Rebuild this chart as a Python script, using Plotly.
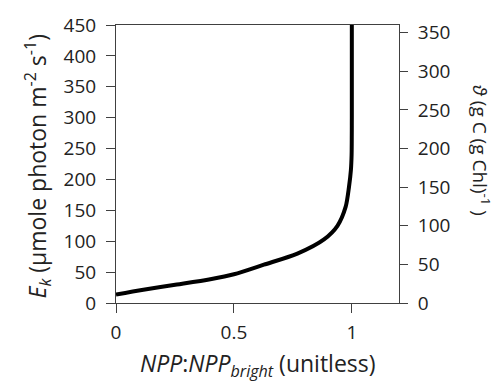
import plotly.graph_objects as go

npp_ratio = [0.0, 0.116, 0.258, 0.4, 0.5, 0.627, 0.769, 0.882, 0.939, 0.974, 0.988, 0.996, 0.999, 1.0, 1.0]
ek = [13.6, 21.5, 29.8, 38.5, 46.5, 62, 80, 103, 125, 156, 188, 215, 240, 300, 450]

x_ticks = [0, 0.5, 1]
x_ticklabels = ["0", "0.5", "1"]
y_ticks = [0, 50, 100, 150, 200, 250, 300, 350, 400, 450]
y2_ticks = [0, 50, 100, 150, 200, 250, 300, 350]

x_title = "<i>NPP</i>:<i>NPP<sub>bright</sub></i> (unitless)"
y_title = "<i>E<sub>k</sub></i> (µmole photon m<sup>-2</sup> s<sup>-1</sup>)"
y2_title = "<i>ϑ</i> (g C (g Chl)<sup>-1</sup> )"

FONT = "Open Sans"
axis_col = "#404040"
txt_col = "#222222"
TFS = 19   # tick font size
LFS = 23   # axis title font size

fig = go.Figure()
fig.add_trace(go.Scatter(x=npp_ratio, y=ek, mode="lines",
                         line=dict(color="black", width=4, shape="spline", smoothing=0.8),
                         showlegend=False, hoverinfo="skip"))
fig.add_trace(go.Scatter(x=[], y=[], yaxis="y2", showlegend=False))

fig.update_layout(
    width=498, height=383,
    margin=dict(l=116, r=99, t=16, b=80),
    paper_bgcolor="white", plot_bgcolor="white",
    font=dict(family=FONT, size=TFS, color=txt_col),
    xaxis=dict(range=[0, 1.2], tickvals=x_ticks, ticktext=x_ticklabels,
               showline=True, linecolor=axis_col, linewidth=1, mirror=True,
               ticks="outside", ticklen=9, tickcolor=axis_col, showgrid=False, zeroline=False,
               tickfont=dict(size=TFS), ticklabelstandoff=3),
    yaxis=dict(range=[0, 450], tickvals=y_ticks,
               showline=True, linecolor=axis_col, linewidth=1,
               ticks="outside", ticklen=9, tickcolor=axis_col, showgrid=False, zeroline=False,
               tickfont=dict(size=TFS), ticklabelstandoff=6),
    yaxis2=dict(range=[0, 360], tickvals=y2_ticks, overlaying="y", side="right",
                showline=True, linecolor=axis_col, linewidth=1,
                ticks="outside", ticklen=8, tickcolor=axis_col, showgrid=False, zeroline=False,
                tickfont=dict(size=TFS), ticklabelstandoff=6),
    annotations=[
        dict(text=x_title, xref="paper", yref="paper", x=0.502, y=0,
             xanchor="center", yanchor="middle", yshift=-61, showarrow=False,
             font=dict(size=LFS, color=txt_col)),
        dict(text=y_title, textangle=-90, xref="paper", yref="paper", x=0, y=0.491,
             xanchor="center", yanchor="middle", xshift=-79, showarrow=False,
             font=dict(size=LFS, color=txt_col)),
        dict(text=y2_title, textangle=90, xref="paper", yref="paper", x=1.0, y=0.55,
             xanchor="center", yanchor="middle", xshift=82, showarrow=False,
             font=dict(size=19, color=txt_col)),
    ],
)

fig.write_html("out.html", config={"displayModeBar": False},
               post_script="document.body.style.margin='0';document.body.style.overflow='hidden';")
